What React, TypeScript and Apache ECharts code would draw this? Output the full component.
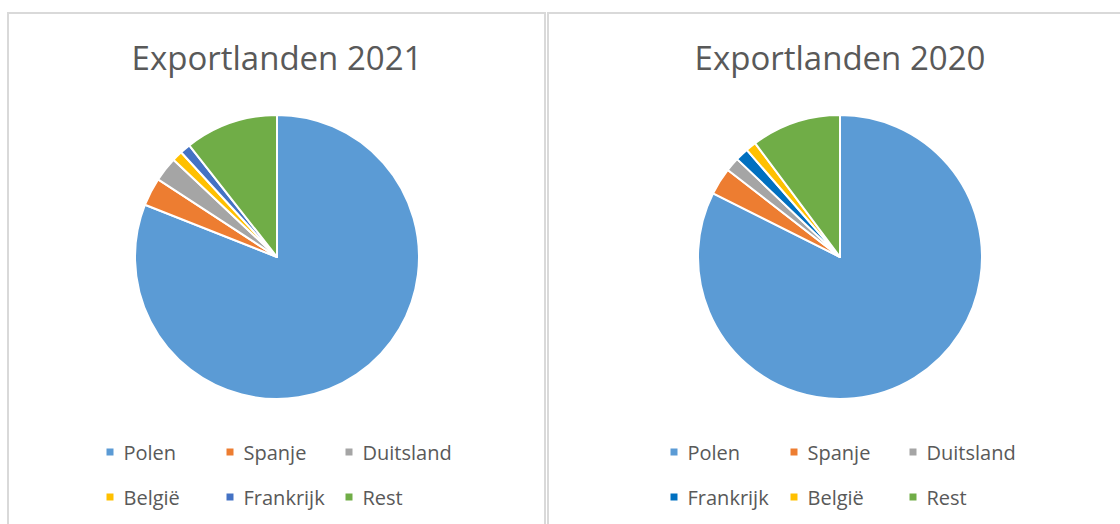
import { useEffect, useRef } from 'react';
import * as echarts from 'echarts';

const titles = ['Exportlanden 2021', 'Exportlanden 2020'];

const categories2021 = ['Polen', 'Spanje', 'Duitsland', 'België', 'Frankrijk', 'Rest'];
const values2021 = [81.0, 3.2, 2.8, 1.2, 1.2, 10.6];

const categories2020 = ['Polen', 'Spanje', 'Duitsland', 'Frankrijk', 'België', 'Rest'];
const values2020 = [82.4, 3.1, 1.6, 1.5, 1.2, 10.2];

const colors2021 = ['#5B9BD5', '#ED7D31', '#A5A5A5', '#FFC000', '#4472C4', '#70AD47'];
const colors2020 = ['#5B9BD5', '#ED7D31', '#A5A5A5', '#0070C0', '#FFC000', '#70AD47'];

const FONT = '"Open Sans", "Segoe UI", sans-serif';
const TEXT_COLOR = '#595959';

function buildLegends(cats: string[], colors: string[], baseX: number) {
  const colX = [0, 120, 239];
  const rowY = [453, 498];
  return cats.map((name, i) => {
    const col = i % 3;
    const row = Math.floor(i / 3);
    return {
      show: true,
      left: baseX + colX[col] - 3.5,
      top: rowY[row] - 11,
      padding: 0,
      itemWidth: 17,
      itemHeight: 9,
      icon: 'path://M0,0h10v10h-10z',
      selectedMode: false,
      textStyle: { fontFamily: FONT, fontSize: 20, color: TEXT_COLOR },
      data: [{ name, itemStyle: { color: colors[i] } }],
    };
  });
}

function pieSeries(cats: string[], vals: number[], colors: string[], cx: number) {
  return {
    type: 'pie',
    center: [cx, 257],
    radius: 142,
    startAngle: 90,
    clockwise: true,
    label: { show: false },
    labelLine: { show: false },
    emphasis: { disabled: true },
    itemStyle: { borderColor: '#ffffff', borderWidth: 2 },
    data: cats.map((name, i) => ({ name, value: vals[i], itemStyle: { color: colors[i] } })),
  };
}

export default function App() {
  const ref = useRef<HTMLDivElement>(null);
  useEffect(() => {
    if (!ref.current) return;
    const chart = echarts.init(ref.current, undefined, { renderer: 'svg' });
    chart.setOption({
      animation: false,
      backgroundColor: '#ffffff',
      title: [
        {
          text: titles[0],
          left: 277,
          top: 41,
          textAlign: 'center',
          padding: 0,
          textStyle: { fontFamily: FONT, fontSize: 33, fontWeight: 'normal', color: TEXT_COLOR },
        },
        {
          text: titles[1],
          left: 840,
          top: 41,
          textAlign: 'center',
          padding: 0,
          textStyle: { fontFamily: FONT, fontSize: 33, fontWeight: 'normal', color: TEXT_COLOR },
        },
      ],
      legend: [
        ...buildLegends(categories2021, colors2021, 108),
        ...buildLegends(categories2020, colors2020, 672),
      ],
      graphic: [
        {
          type: 'rect',
          shape: { x: 8, y: 13, width: 537, height: 540 },
          style: { fill: 'none', stroke: '#d9d9d9', lineWidth: 2 },
          silent: true,
          z: -1,
        },
        {
          type: 'rect',
          shape: { x: 548, y: 13, width: 600, height: 540 },
          style: { fill: 'none', stroke: '#d9d9d9', lineWidth: 2 },
          silent: true,
          z: -1,
        },
      ],
      series: [
        pieSeries(categories2021, values2021, colors2021, 277),
        pieSeries(categories2020, values2020, colors2020, 840),
      ],
    });
    return () => chart.dispose();
  }, []);
  return (
    <div
      ref={ref}
      style={{ position: 'absolute', left: 0, top: 0, width: 1120, height: 524 }}
    />
  );
}
